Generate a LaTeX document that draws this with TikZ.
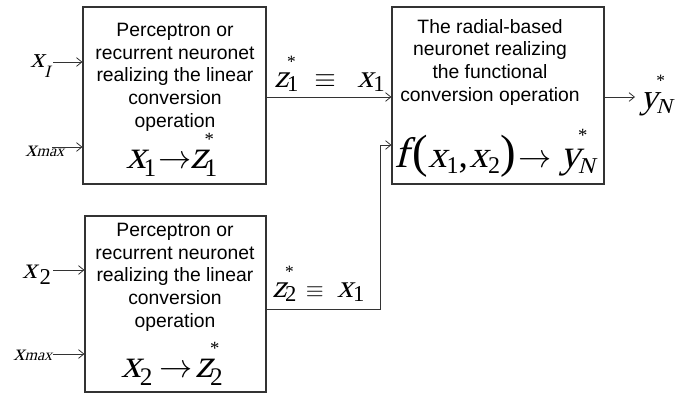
\documentclass[tikz,border=0pt]{standalone}
\usepackage{fontspec}
\setmainfont{Liberation Sans}
\newfontfamily\tnr{Liberation Serif}
\newfontfamily\tnri[FakeSlant=0.25]{Liberation Serif}
\usetikzlibrary{arrows.meta}
\newcommand\fs[1]{\fontsize{#1}{#1}\selectfont}
\newcommand\iv[2]{{\fs{#1}\tnri #2}}
\newcommand\rv[2]{{\fs{#1}\tnr #2}}
\newcommand\mto[1]{{\fs{#1}$\rightarrow$}}
\newcommand\meq[1]{{\fs{#1}$\equiv$}}
\tikzset{
  box/.style={draw=black!80, line width=0.8pt, inner sep=0pt},
  txt/.style={font=\fontsize{14.5}{17}\selectfont, align=center, inner sep=0pt, anchor=north},
  lab/.style={inner sep=0pt, anchor=base west},
  arr/.style={draw=black!80, line width=0.6pt, -{Straight Barb[length=4pt,width=6.5pt]}},
}
\begin{document}
\begin{tikzpicture}[x=0.75pt,y=-0.75pt]
\useasboundingbox (0,0) rectangle (684,394);
% boxes
\node[box, minimum width=137.25pt, minimum height=132.75pt] (b1) at (174.5,95.5) {};
\node[box, minimum width=135.75pt, minimum height=132pt] (b2) at (175.5,304) {};
\node[box, minimum width=159pt, minimum height=132.75pt] (b3) at (498,95.5) {};
% box texts
\node[txt] (t1) at (175,23) {Perceptron or\\recurrent neuronet\\realizing the linear\\conversion\\operation};
\node[txt] (t2) at (175,223) {Perceptron or\\recurrent neuronet\\realizing the linear\\conversion\\operation};
\node[txt] (t3) at (490,19) {The radial-based\\neuronet realizing\\the functional\\conversion operation};
% formulas
\node[lab] (f1) at (126,168) {\iv{30}{x}\hspace{-2pt}\raisebox{-6pt}{\rv{19}{1}}\hspace{2pt}\mto{28}\hspace{-1pt}\iv{30}{z}\hspace{-3pt}\rlap{\raisebox{17pt}{\rv{14}{*}}}\raisebox{-6pt}{\rv{19}{1}}};
\node[lab] (f2) at (121,377) {\iv{30}{x}\hspace{-1pt}\raisebox{-6pt}{\rv{19}{2}}\hspace{5pt}\mto{28}\hspace{2pt}\iv{30}{z}\hspace{-2pt}\rlap{\raisebox{17pt}{\rv{14}{*}}}\raisebox{-6pt}{\rv{19}{2}}};
\node[lab] (f3) at (394,167) {\iv{32}{f}\hspace{3pt}\rv{35}{(}\iv{28}{x}\raisebox{-5pt}{\rv{18}{1}}\rv{28}{,}\hspace{1pt}\iv{28}{x}\raisebox{-5pt}{\rv{18}{2}}\rv{35}{)}\hspace{2pt}\mto{28}\hspace{7pt}\iv{30}{y}\hspace{-2pt}\rlap{\raisebox{19pt}{\rv{14}{*}}}\raisebox{-5pt}{\iv{17}{N}}};
% input labels
\node[lab] (lx1) at (30,67) {\iv{21}{x}\raisebox{-8pt}{\iv{13}{I}}};
\node[lab] (lxm1) at (25,156) {\iv{17}{x}\iv{12}{max}};
\node[lab] (lx2) at (22,278) {\iv{22}{x}\hspace{2pt}\raisebox{-5pt}{\rv{17}{2}}};
\node[lab] (lxm2) at (13,360) {\iv{17}{x}\iv{12}{max}};
% input arrows
\coordinate (i1) at (53,62);
\coordinate (i2) at (52,147);
\coordinate (i3) at (53,270);
\coordinate (i4) at (53,354);
\draw[arr] (i1) -- (i1 -| b1.west);
\draw[arr] (i2) -- (i2 -| b1.west);
\draw[arr] (i3) -- (i3 -| b2.west);
\draw[arr] (i4) -- (i4 -| b2.west);
% connections
\coordinate (c1) at (266,97);
\draw[arr] (c1 -| b1.east) -- (c1 -| b3.west);
\coordinate (c2) at (380,309);
\coordinate (c3) at (380,145);
\draw[arr] (c2 -| b2.east) -- (c2) -- (c3) -- (c3 -| b3.west);
\coordinate (o1) at (635,97);
\draw[arr] (o1 -| b3.east) -- (o1);
% connector labels
\node[lab] (lz1) at (274,87) {\iv{24}{z}\hspace{-1pt}\rlap{\raisebox{15pt}{\rv{13}{*}}}\raisebox{-3pt}{\rv{17}{1}}\hspace{12pt}\meq{22}\hspace{16pt}\iv{24}{x}\raisebox{-3pt}{\rv{17}{1}}};
\node[lab] (lz2) at (272,297) {\iv{24}{z}\hspace{-1pt}\rlap{\raisebox{15pt}{\rv{13}{*}}}\raisebox{-3pt}{\rv{17}{2}}\hspace{7pt}\meq{18}\hspace{10pt}\iv{24}{x}\raisebox{-3pt}{\rv{17}{1}}};
\node[lab] (ly) at (640,108) {\iv{26}{y}\hspace{-1pt}\rlap{\raisebox{16pt}{\rv{13}{*}}}\raisebox{-4pt}{\iv{16}{N}}};
\end{tikzpicture}
\end{document}
